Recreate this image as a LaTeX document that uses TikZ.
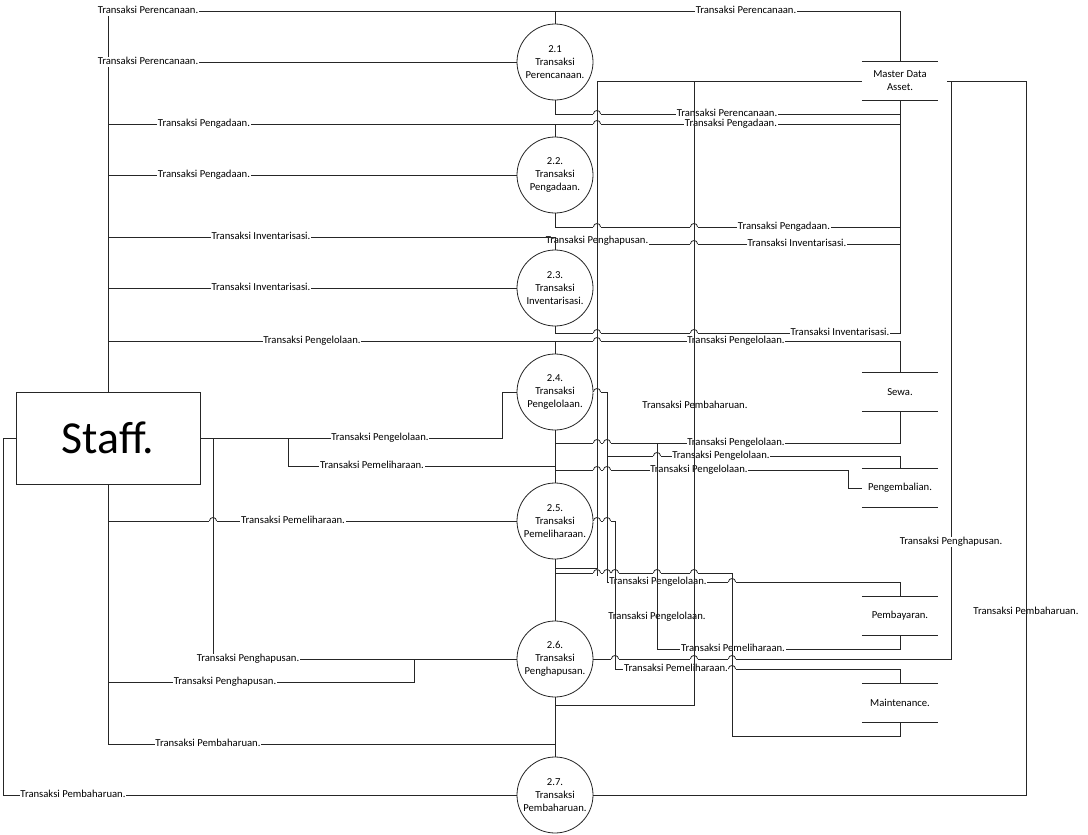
\documentclass[tikz,border=0pt]{standalone}
\usepackage{fontspec}
\setmainfont{Carlito}
\newcommand{\lblfont}{\fontsize{10.7}{13}\selectfont}
% jump of a flow over a crossing line
\newcommand{\hop}[2]{%
  \fill[white] (#1-3.6,#2-1.3) rectangle (#1+3.6,#2+1.3);
  \draw[flow] (#1,#2-2.6) -- (#1,#2+2.6);
  \draw[flow] (#1-3.6,#2) .. controls (#1-3.6,#2-4.6) and (#1+3.6,#2-4.6) .. (#1+3.6,#2);
}
\tikzset{
  flow/.style={draw=black!85, line width=0.8bp},
  proc/.style={circle, draw=black!85, line width=0.8bp, minimum size=76bp, inner sep=0pt, align=center, font=\lblfont},
  store/.style={minimum width=76bp, minimum height=38bp, inner sep=0pt, align=center, font=\lblfont},
  entity/.style={rectangle, draw=black!85, line width=0.8bp, minimum width=184bp, minimum height=92bp, font=\fontsize{46}{50}\selectfont},
  lbl/.style={fill=white, inner sep=0.8bp, font=\lblfont, text height=7bp, text depth=2bp},
  lblx/.style={inner sep=0.8bp, font=\lblfont, text height=7bp, text depth=2bp},
}
\begin{document}
\begin{tikzpicture}[x=1bp, y=-1bp]
    \fill[white] (0,0) rectangle (1088,835);
    \useasboundingbox (0,0) rectangle (1088,835);

    % Entity, processes and stores
    \node[entity] (staff) at (108,438) {Staff.};
    \node[proc] (p21) at (555,62) {2.1\\Transaksi\\Perencanaan.};
    \node[proc] (p22) at (555,175) {2.2.\\Transaksi\\Pengadaan.};
    \node[proc] (p23) at (555,288) {2.3.\\Transaksi\\Inventarisasi.};
    \node[proc] (p24) at (555,392) {2.4.\\Transaksi\\Pengelolaan.};
    \node[proc] (p25) at (555,521) {2.5.\\Transaksi\\Pemeliharaan.};
    \node[proc] (p26) at (555,659) {2.6.\\Transaksi\\Penghapusan.};
    \node[proc] (p27) at (555,795) {2.7.\\Transaksi\\Pembaharuan.};

    \node[store] (mda) at (900,81) {Master Data\\Asset.};
    \node[store] (sewa) at (900,392) {Sewa.};
    \node[store] (kembali) at (900,488) {Pengembalian.};
    \node[store] (bayar) at (900,616) {Pembayaran.};
    \node[store] (mnt) at (900,703) {Maintenance.};
    \foreach \s in {mda,sewa,kembali,bayar,mnt}
        \draw[flow] (\s.north west) -- (\s.north east) (\s.south west) -- (\s.south east);

    % 1) Perencanaan
    \draw[flow] (staff.north) -- (108,11) -- (900,11) -- (mda.north);
    \draw[flow] (555,11) -- (p21.north);
    \node[lbl] (a1) at (148,11) {Transaksi Perencanaan.};
    \node[lbl] (a2) at (746,11) {Transaksi Perencanaan.};
    \draw[flow] (108,62) -- (p21.west);
    \node[lbl] (a3) at (148,62) {Transaksi Perencanaan.};
    \draw[flow] (p21.south) -- (555,114) -- (900,114);
    \node[lbl] (a4) at (727,114) {Transaksi Perencanaan.};

    % 2) Pengadaan
    \draw[flow] (108,124) -- (900,124);
    \draw[flow] (555,124) -- (p22.north);
    \node[lbl] (b1) at (204,124) {Transaksi Pengadaan.};
    \node[lbl] (b2) at (731,124) {Transaksi Pengadaan.};
    \draw[flow] (108,175) -- (p22.west);
    \node[lbl] (b3) at (204,175) {Transaksi Pengadaan.};
    \draw[flow] (p22.south) -- (555,227) -- (900,227);
    \node[lbl] (b4) at (784,227) {Transaksi Pengadaan.};

    % 3) Inventarisasi
    \draw[flow] (900,244) -- (555,244);
    \node[lbl] (c1) at (797,244) {Transaksi Inventarisasi.};
    \node[lbl] (c2) at (597,241) {Transaksi Penghapusan.};
    \draw[flow] (108,237) -- (555,237) -- (p23.north);
    \node[lbl] (c3) at (261,237) {Transaksi Inventarisasi.};
    \draw[flow] (108,288) -- (p23.west);
    \node[lbl] (c4) at (261,288) {Transaksi Inventarisasi.};
    \draw[flow] (p23.south) -- (555,333) -- (900,333) -- (mda.south);
    \node[lbl] (c5) at (840,333) {Transaksi Inventarisasi.};

    % 4) Pengelolaan
    \draw[flow] (108,341) -- (900,341) -- (sewa.north);
    \draw[flow] (555,341) -- (p24.north);
    \node[lbl] (d1) at (312,341) {Transaksi Pengelolaan.};
    \node[lbl] (d2) at (736,341) {Transaksi Pengelolaan.};
    \draw[flow] (staff.east) -- (502,438) -- (502,392) -- (p24.west);
    \node[lbl] (d3) at (380,438) {Transaksi Pengelolaan.};
    \draw[flow] (p24.south) -- (p25.north);
    \draw[flow] (555,443) -- (900,443) -- (sewa.south);
    \node[lbl] (d4) at (736,443) {Transaksi Pengelolaan.};
    \draw[flow] (555,470) -- (848,470) -- (848,488) -- (kembali.west);
    \node[lbl] (d5) at (699,470) {Transaksi Pengelolaan.};

    % 5) Pemeliharaan
    \draw[flow] (288,438) -- (288,466) -- (555,466);
    \node[lbl] (e1) at (372,466) {Transaksi Pemeliharaan.};
    \draw[flow] (108,521) -- (p25.west);
    \node[lbl] (e2) at (293,521) {Transaksi Pemeliharaan.};
    \draw[flow] (p25.south) -- (p26.north);

    % 6) Penghapusan
    \draw[flow] (213,438) -- (213,659) -- (p26.west);
    \node[lbl] (f1) at (248,659) {Transaksi Penghapusan.};
    \draw[flow] (108,682) -- (414,682) -- (414,659);
    \node[lbl] (f2) at (225,682) {Transaksi Penghapusan.};
    \draw[flow] (p26.east) -- (951,659) -- (951,81);
    \node[lbl] (f3) at (951,542) {Transaksi Penghapusan.};

    % 7) Pembaharuan
    \draw[flow] (p26.south) -- (p27.north);
    \draw[flow] (staff.south) -- (108,744) -- (555,744);
    \node[lbl] (g1) at (208,744) {Transaksi Pembaharuan.};
    \draw[flow] (staff.west) -- (3,438) -- (3,795) -- (p27.west);
    \node[lbl] (g2) at (73,795) {Transaksi Pembaharuan.};
    \draw[flow] ([xshift=9bp]mda.east) -- (1026,81) -- (1026,795) -- (p27.east);
    \node[lblx] (g3) at (1026,612) {Transaksi Pembaharuan.};

    % Store flows through the middle
    \draw[flow] (p24.east) -- (607,392) -- (607,582) -- (900,582) -- (bayar.north);
    \node[lbl] (h1) at (658,582) {Transaksi Pengelolaan.};
    \draw[flow] (607,456) -- (900,456) -- (kembali.north);
    \node[lbl] (h2) at (721,456) {Transaksi Pengelolaan.};
    \draw[flow] (p25.east) -- (615,521) -- (615,669) -- (900,669) -- (mnt.north);
    \node[lbl] (h3) at (676,669) {Transaksi Pemeliharaan.};
    \draw[flow] (657,443) -- (657,649) -- (900,649) -- (bayar.south);
    \node[lbl] (h4) at (733,649) {Transaksi Pemeliharaan.};
    \node[lblx] (h5) at (657,617) {Transaksi Pengelolaan.};
    \draw[flow] (555,573) -- (732,573) -- (732,736) -- (900,736) -- (mnt.south);
    \draw[flow] (mda.west) -- (597,81) -- (597,568) -- (555,568);
    \draw[flow] (694,81) -- (694,705) -- (555,705);
    \node[lblx] (h6) at (695,406) {Transaksi Pembaharuan.};

    % Jumps
    \foreach \x/\y in {597/114, 597/124, 597/227, 694/227, 694/244, 597/333, 694/333,
        597/341, 597/392, 597/443, 607/443, 657/456, 597/470, 607/470,
        213/521, 597/521, 607/521, 597/573, 607/573, 615/573, 657/573, 694/573,
        732/582, 615/659, 694/659, 732/659, 732/669}
        \hop{\x}{\y};
\end{tikzpicture}
\end{document}
